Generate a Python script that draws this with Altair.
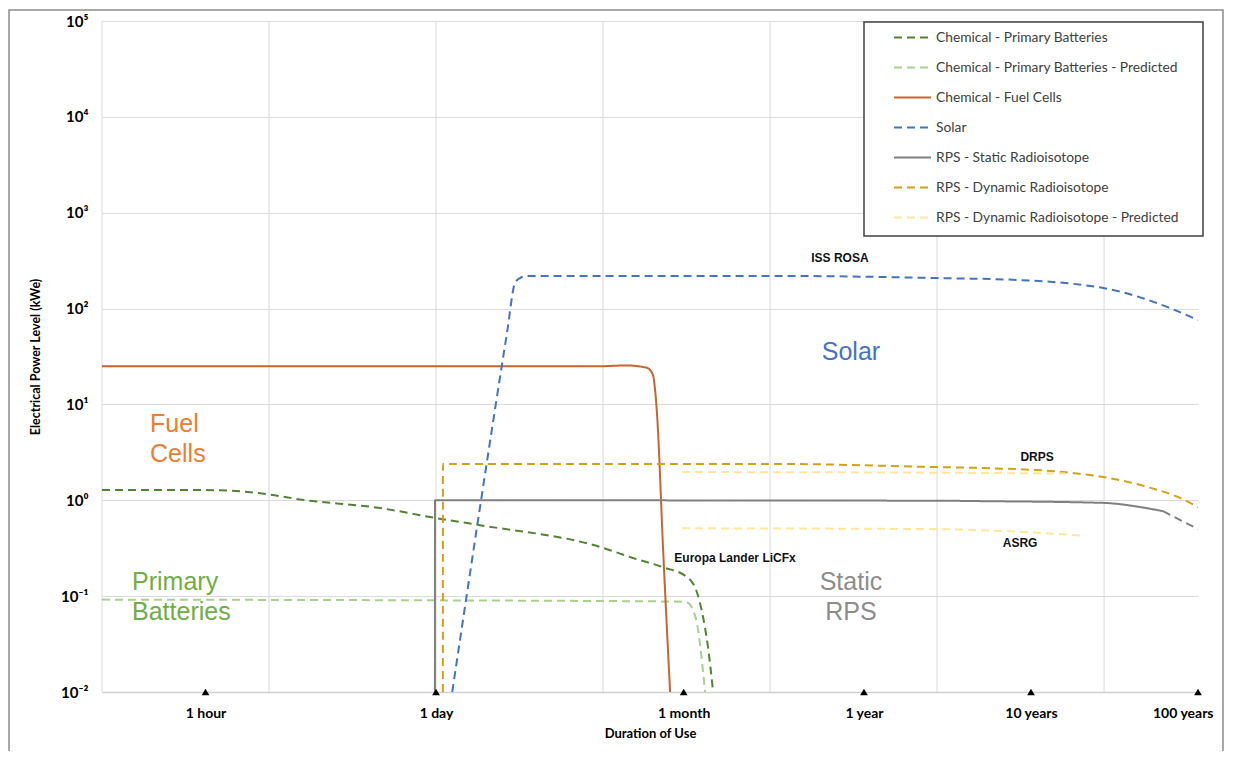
import altair as alt
import pandas as pd

# ---------------- data ----------------
SERIES = [
    "Chemical - Primary Batteries",
    "Chemical - Primary Batteries - Predicted",
    "Chemical - Fuel Cells",
    "Solar",
    "RPS - Static Radioisotope",
    "RPS - Dynamic Radioisotope",
    "RPS - Dynamic Radioisotope - Predicted",
]
COLORS = ["#548235", "#A9D18E", "#C8652F", "#4472C4", "#7F7F7F", "#D4A017", "#FFE699"]
DASHES = [[8, 5], [8, 5], [1, 0], [8, 5], [1, 0], [8, 5], [8, 5]]

# duration in days, power in kWe
pb_days = [0.01, 0.04, 0.058, 0.097, 0.153, 0.462, 1.01, 1.83, 9.6, 15.1, 22.9, 31.8, 36.6, 39.7, 42.5, 45.6]
pb_kwe = [1.28, 1.28, 1.26, 1.16, 1.02, 0.83, 0.65, 0.55, 0.326, 0.25, 0.20, 0.158, 0.108, 0.0605, 0.0294, 0.01]

pbp_days = [0.01, 27.0, 31.8, 34.6, 37.1, 39.2, 40.8]
pbp_kwe = [0.092, 0.088, 0.086, 0.0716, 0.0443, 0.0201, 0.01]

fc_days = [0.01, 9.2, 13.9, 18.3, 19.9, 20.5, 21.1, 22.9, 25.2]
fc_kwe = [25.0, 25.0, 25.5, 24.1, 20.3, 14.1, 7.4, 0.30, 0.01]

solar_days = [1.25, 2.66, 2.97, 3.18, 3.51, 115, 1000, 3013, 7485, 9860, 14920, 23830, 36500]
solar_kwe = [0.01, 55.6, 185, 208, 219, 219, 208, 199, 176, 164, 138, 104, 76]

static_days = [0.985, 0.986, 1000, 1807, 9860, 16440, 22550]
static_kwe = [0.01, 1.0, 0.99, 0.98, 0.94, 0.85, 0.77]
static_tail_days = [22550, 36500]
static_tail_kwe = [0.77, 0.50]

dyn_days = [1.099, 1.10, 115, 1000, 1885, 5680, 9860, 18080, 28500, 36500]
dyn_kwe = [0.01, 2.39, 2.39, 2.22, 2.17, 1.97, 1.75, 1.38, 1.06, 0.85]

drps_pred_days = [29.7, 1000, 5840]
drps_pred_kwe = [1.97, 1.94, 1.90]
asrg_days = [29.7, 1000, 3013, 7180]
asrg_kwe = [0.51, 0.50, 0.47, 0.43]

GRID_DAYS = [0.01, 0.1, 1, 10, 100, 1000, 10000]
TICK_DAYS = [1 / 24, 1, 30.4, 365, 3650, 36500]
TICK_LABELS = ["1 hour", "1 day", "1 month", "1 year", "10 years", "100 years"]
Y_VALUES = [0.01, 0.1, 1, 10, 100, 1000, 10000, 100000]
Y_LABELS = ["10⁻²", "10⁻¹", "10⁰", "10¹", "10²", "10³", "10⁴", "10⁵"]

BIG_LEFT_TEXT = ["Fuel\nCells", "Primary\nBatteries"]
BIG_LEFT_DAYS = [0.0194, 0.01513]
BIG_LEFT_KWE = [6.25, 0.1406]
BIG_LEFT_COLOR = ["#ED7D31", "#70AD47"]

BIG_CENTER_TEXT = ["Solar", "Static\nRPS"]
BIG_CENTER_DAYS = [305, 305]
BIG_CENTER_KWE = [35.2, 0.141]
BIG_CENTER_COLOR = ["#4472C4", "#8C8C8C"]

SMALL_TEXT = ["ISS ROSA", "DRPS", "ASRG", "Europa Lander LiCFx"]
SMALL_DAYS = [262, 3970, 3140, 61.7]
SMALL_KWE = [336, 2.83, 0.358, 0.25]

# ---------------- tables ----------------
rows = []


def add(series, seg, days, kwe):
    for i, (d, v) in enumerate(zip(days, kwe)):
        rows.append(dict(series=series, seg=seg, i=i, days=d, kwe=v))


add(SERIES[0], "pb", pb_days, pb_kwe)
add(SERIES[1], "pbp", pbp_days, pbp_kwe)
add(SERIES[2], "fc", fc_days, fc_kwe)
add(SERIES[3], "solar", solar_days, solar_kwe)
add(SERIES[4], "static", static_days, static_kwe)
add(SERIES[5], "dyn", dyn_days, dyn_kwe)
add(SERIES[6], "drpsp", drps_pred_days, drps_pred_kwe)
add(SERIES[6], "asrg", asrg_days, asrg_kwe)
df = pd.DataFrame(rows)

tail_df = pd.DataFrame({"days": static_tail_days, "kwe": static_tail_kwe, "i": range(len(static_tail_days))})
grid_df = pd.DataFrame({"days": GRID_DAYS})
tick_df = pd.DataFrame({"days": TICK_DAYS})
big_left_df = pd.DataFrame({"t": BIG_LEFT_TEXT, "days": BIG_LEFT_DAYS, "kwe": BIG_LEFT_KWE, "c": BIG_LEFT_COLOR})
big_center_df = pd.DataFrame({"t": BIG_CENTER_TEXT, "days": BIG_CENTER_DAYS, "kwe": BIG_CENTER_KWE, "c": BIG_CENTER_COLOR})
small_df = pd.DataFrame({"t": SMALL_TEXT, "days": SMALL_DAYS, "kwe": SMALL_KWE})

# ---------------- scales / axes ----------------
x_scale = alt.Scale(type="log", domain=[0.01, 36500], nice=False)
y_scale = alt.Scale(type="log", domain=[0.01, 100000], nice=False)

x_expr = " : ".join(f"datum.value == {v!r} ? '{l}'" for v, l in zip(TICK_DAYS, TICK_LABELS)) + " : ''"
y_expr = " : ".join(f"datum.value == {float(v)!r} ? '{l}'" for v, l in zip(Y_VALUES, Y_LABELS)) + " : ''"

x_axis = alt.Axis(
    values=TICK_DAYS, labelExpr=x_expr, grid=False, ticks=False, domain=True,
    domainColor="#D0D0D0", domainWidth=1.5, labelFont="Lato", labelFontWeight="bold",
    labelFontSize=14, labelColor="#000000", labelPadding=14, labelOverlap=False,
    labelFlush=True, labelFlushOffset=15, titleFont="Lato", titleFontSize=13,
    titleFontWeight="bold", titleColor="#000000", titlePadding=7,
)
y_axis = alt.Axis(
    values=Y_VALUES, labelExpr=y_expr, grid=True, gridColor="#D9D9D9", gridWidth=1,
    ticks=False, domain=False, labelFont="Lato", labelFontWeight="bold", labelFontSize=15,
    labelColor="#000000", labelPadding=14, labelOverlap=False, labelFlush=False,
    titleFont="Lato", titleFontSize=12.5, titleFontWeight="bold", titleColor="#000000",
    titlePadding=18,
)

X = alt.X("days:Q", scale=x_scale, title="Duration of Use")
Y = alt.Y("kwe:Q", scale=y_scale, title="Electrical Power Level (kWe)")

frame = alt.Chart(alt.Data(values=[{}])).mark_rect(
    fill="transparent", stroke="#8C8C8C", strokeWidth=1.5, clip=False
).encode(x=alt.value(-93), x2=alt.value(1121), y=alt.value(-11), y2=alt.value(800))

grid = alt.Chart(grid_df).mark_rule(color="#D9D9D9", strokeWidth=1).encode(x=X)

lines = alt.Chart(df).mark_line(strokeWidth=2, clip=True, interpolate="monotone").encode(
    x=alt.X("days:Q", scale=x_scale, axis=x_axis, title="Duration of Use"),
    y=alt.Y("kwe:Q", scale=y_scale, axis=y_axis, title="Electrical Power Level (kWe)"),
    color=alt.Color(
        "series:N",
        scale=alt.Scale(domain=SERIES, range=COLORS),
        legend=alt.Legend(
            title=None, orient="none", legendX=791, legendY=-3, padding=0,
            symbolType="stroke", symbolSize=1369, symbolStrokeWidth=2,
            labelFont="Lato", labelFontSize=13.8, labelColor="#404040",
            labelOffset=4, labelLimit=400, rowPadding=3,
        ),
    ),
    strokeDash=alt.StrokeDash("series:N", scale=alt.Scale(domain=SERIES, range=DASHES)),
    detail="seg:N",
    order="i:Q",
)

tail = alt.Chart(tail_df).mark_line(
    strokeWidth=2, color="#7F7F7F", strokeDash=[8, 5], clip=True
).encode(x=X, y=Y, order="i:Q")

legend_box = alt.Chart(alt.Data(values=[{}])).mark_rect(
    fill="white", stroke="#404040", strokeWidth=1.5
).encode(x=alt.value(762), x2=alt.value(1101), y=alt.value(1), y2=alt.value(215))

big_left = alt.Chart(big_left_df).mark_text(
    align="left", baseline="middle", font="Liberation Sans", fontSize=25,
    lineBreak="\n", lineHeight=30
).encode(x=X, y=Y, text="t:N", color=alt.Color("c:N", scale=None))

big_center = alt.Chart(big_center_df).mark_text(
    align="center", baseline="middle", font="Liberation Sans", fontSize=25,
    lineBreak="\n", lineHeight=30
).encode(x=X, y=Y, text="t:N", color=alt.Color("c:N", scale=None))

small = alt.Chart(small_df).mark_text(
    align="center", baseline="middle", font="Liberation Sans", fontSize=12,
    fontWeight="bold", color="#111111"
).encode(x=X, y=Y, text="t:N")

tris = alt.Chart(tick_df).mark_point(
    shape="triangle-up", filled=True, color="#000000", size=60, opacity=1, yOffset=0
).encode(x=X, y=alt.datum(0.01))

chart = alt.layer(
    frame, grid, lines, tail, legend_box, big_left, big_center, small, tris
).properties(
    width=1096, height=671,
    autosize=alt.AutoSizeParams(type="none"),
    padding={"left": 94, "top": 13, "right": 27, "bottom": 59},
    background="white",
).configure_view(stroke="transparent")

chart.save("out.html", embed_options={"renderer": "svg", "actions": False})
